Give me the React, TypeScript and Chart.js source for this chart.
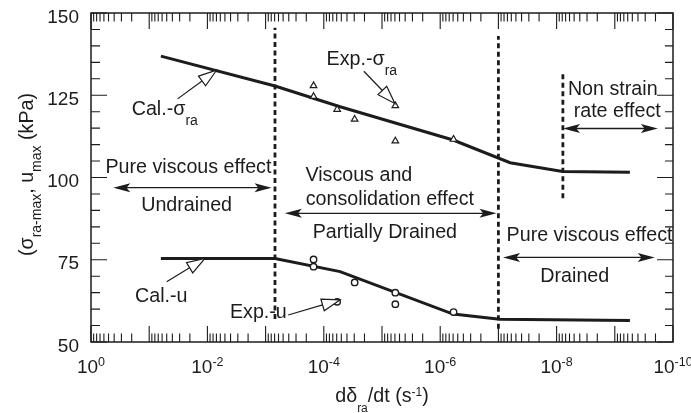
import React, { useEffect, useRef } from "react";
import { Chart, registerables } from "chart.js";

Chart.register(...registerables);

const FONT = '"Liberation Sans", Arial, Helvetica, sans-serif';
const INK = "#1c1c1c";

// ---- Data (strain rate in s^-1, stress / pressure in kPa) ----
const calSigmaRate = [6.3e-2, 6.9e-4, 5.25e-5, 6.0e-7, 6.3e-8, 7.9e-9, 5.5e-10];
const calSigmaValue = [136.9, 127.8, 121.5, 111.4, 104.5, 101.8, 101.6];

const calURate = [6.3e-2, 6.9e-4, 5.25e-5, 6.0e-7, 9.5e-8, 5.5e-10];
const calUValue = [75.4, 75.4, 71.4, 58.5, 56.9, 56.5];

const expSigmaRate = [1.5e-4, 1.5e-4, 5.9e-5, 2.95e-5, 5.9e-6, 5.9e-6, 5.9e-7];
const expSigmaValue = [127.9, 124.6, 120.7, 117.7, 121.8, 111.1, 111.6];

const expURate = [1.5e-4, 1.5e-4, 5.9e-5, 2.95e-5, 5.9e-6, 5.9e-6, 5.9e-7];
const expUValue = [75.1, 72.9, 62.2, 68.1, 65.0, 61.5, 59.1];

// vertical dashed boundaries between regimes
const boundaryRate = [6.9e-4, 1.0e-7, 7.8e-9];
const boundaryLow = [57, 54, 93.7];
const boundaryHigh = [145.5, 143, 132.2];

// axis ticks
const yTickValues = [50, 75, 100, 125, 150];
const xTickExponents = [0, -2, -4, -6, -8, -10];

// region labels: log10(rate), baseline value
const regionLabels = [
  { text: "Pure viscous effect", lx: -1.674, v: 101.4 },
  { text: "Undrained", lx: -1.643, v: 89.8 },
  { text: "Viscous and", lx: -4.602, v: 98.9 },
  { text: "consolidation effect", lx: -5.135, v: 91.6 },
  { text: "Partially Drained", lx: -5.049, v: 81.5 },
  { text: "Pure viscous effect", lx: -8.566, v: 80.8 },
  { text: "Drained", lx: -8.312, v: 68.3 },
  { text: "Non strain", lx: -8.965, v: 125.0 },
  { text: "rate effect", lx: -9.042, v: 118.4 },
];

// double-headed range arrows: log10 rate from/to, value
const rangeArrows = [
  { lx1: -0.383, lx2: -3.103, v: 96.9 },
  { lx1: -3.33, lx2: -6.967, v: 89.1 },
  { lx1: -7.08, lx2: -9.686, v: 75.7 },
  { lx1: -8.11, lx2: -9.74, v: 114.9 },
];

// callout labels with hollow pointer arrows
const callouts = [
  { main: "Cal.-σ", sub: "ra", lx: -0.699, v: 118.9, from: [-1.488, 123.9], to: [-2.157, 132.6] },
  { main: "Exp.-σ", sub: "ra", lx: -4.047, v: 134.1, from: [-4.688, 132.3], to: [-5.221, 122.5] },
  { main: "Cal.-u", sub: "", lx: -0.756, v: 62.25, from: [-1.3, 68.3], to: [-1.958, 75.4] },
  { main: "Exp.-u", sub: "", lx: -2.387, v: 57.2, from: [-3.388, 58.2], to: [-4.276, 62.8] },
];

type Seg = { t: string; size: number; dy: number };

function drawRich(ctx: CanvasRenderingContext2D, segs: Seg[], x: number, y: number, align: string) {
  let total = 0;
  const widths = segs.map((s) => {
    ctx.font = `${s.size}px ${FONT}`;
    const w = ctx.measureText(s.t).width;
    total += w;
    return w;
  });
  let cx = align === "center" ? x - total / 2 : align === "right" ? x - total : x;
  ctx.textAlign = "left";
  ctx.textBaseline = "alphabetic";
  segs.forEach((s, i) => {
    ctx.font = `${s.size}px ${FONT}`;
    ctx.fillText(s.t, cx, y + s.dy);
    cx += widths[i];
  });
}

function filledHead(ctx: CanvasRenderingContext2D, tx: number, ty: number, dx: number, dy: number, len: number, hw: number) {
  const bx = tx - dx * len;
  const by = ty - dy * len;
  const nx = -dy;
  const ny = dx;
  const kx = tx - dx * len * 0.78;
  const ky = ty - dy * len * 0.78;
  ctx.beginPath();
  ctx.moveTo(tx, ty);
  ctx.lineTo(bx + nx * hw, by + ny * hw);
  ctx.lineTo(kx, ky);
  ctx.lineTo(bx - nx * hw, by - ny * hw);
  ctx.closePath();
  ctx.fill();
}

const decorPlugin = {
  id: "decor",
  afterDatasetsDraw(chart: any) {
    const { ctx, chartArea: a, scales } = chart;
    const xs = scales.x;
    const ys = scales.y;
    const px = (lx: number) => xs.getPixelForValue(Math.pow(10, lx));
    const py = (v: number) => ys.getPixelForValue(v);
    ctx.save();
    ctx.strokeStyle = INK;
    ctx.fillStyle = INK;

    // frame
    ctx.lineWidth = 1.5;
    ctx.strokeRect(a.left, a.top, a.right - a.left, a.bottom - a.top);

    // x ticks (inward, top and bottom)
    ctx.lineWidth = 1.1;
    const xTick = (x: number, len: number) => {
      ctx.beginPath();
      ctx.moveTo(x, a.bottom);
      ctx.lineTo(x, a.bottom - len);
      ctx.moveTo(x, a.top);
      ctx.lineTo(x, a.top + len);
      ctx.stroke();
    };
    for (let e = 0; e >= -10; e--) {
      xTick(xs.getPixelForValue(Math.pow(10, e)), 16);
    }
    for (let e = -10; e <= -1; e++) {
      for (let m = 2; m <= 9; m++) {
        xTick(xs.getPixelForValue(m * Math.pow(10, e)), 8.5);
      }
    }
    // y ticks
    for (let v = 50; v <= 150; v += 5) {
      const y = py(v);
      const major = v % 25 === 0;
      ctx.beginPath();
      ctx.moveTo(a.left, y);
      ctx.lineTo(a.left + (major ? 16 : 9), y);
      ctx.moveTo(a.right, y);
      ctx.lineTo(a.right - (major ? 16 : 8), y);
      ctx.stroke();
    }

    // y tick labels
    ctx.font = `19px ${FONT}`;
    ctx.textAlign = "right";
    ctx.textBaseline = "alphabetic";
    yTickValues.forEach((v) => {
      ctx.fillText(String(v), a.left - 12, py(v) + 9.6);
    });
    // x tick labels
    xTickExponents.forEach((e) => {
      drawRich(ctx, [
        { t: "10", size: 19, dy: 0 },
        { t: String(e), size: 12.5, dy: -7.5 },
      ], px(e), a.bottom + 31, "center");
    });

    // axis titles
    drawRich(ctx, [
      { t: "dδ", size: 19.7, dy: 0 },
      { t: "ra", size: 12, dy: 10 },
      { t: "/dt (s", size: 19.7, dy: 0 },
      { t: "-1", size: 12, dy: -6 },
      { t: ")", size: 19.7, dy: 0 },
    ], (a.left + a.right) / 2, a.bottom + 60, "center");

    ctx.save();
    ctx.translate(33, (a.top + a.bottom) / 2 - 3);
    ctx.rotate(-Math.PI / 2);
    drawRich(ctx, [
      { t: "(σ", size: 19.7, dy: 0 },
      { t: "ra-max", size: 14, dy: 8 },
      { t: ", u", size: 19.7, dy: 0 },
      { t: "max", size: 14, dy: 8 },
      { t: " (kPa)", size: 19.7, dy: 0 },
    ], 0, 0, "center");
    ctx.restore();

    // region labels
    ctx.font = `19.7px ${FONT}`;
    ctx.textAlign = "center";
    ctx.textBaseline = "alphabetic";
    regionLabels.forEach((l) => ctx.fillText(l.text, px(l.lx), py(l.v)));

    // double arrows
    ctx.lineWidth = 1.3;
    rangeArrows.forEach((r) => {
      const x1 = px(r.lx1);
      const x2 = px(r.lx2);
      const y = py(r.v);
      ctx.beginPath();
      ctx.moveTo(x1 + 6, y);
      ctx.lineTo(x2 - 6, y);
      ctx.stroke();
      filledHead(ctx, x1, y, -1, 0, 17, 4.5);
      filledHead(ctx, x2, y, 1, 0, 17, 4.5);
    });

    // callouts
    callouts.forEach((c) => {
      const segs: Seg[] = [{ t: c.main, size: 19.7, dy: 0 }];
      if (c.sub) segs.push({ t: c.sub, size: 14, dy: 10 });
      drawRich(ctx, segs, px(c.lx), py(c.v), "left");
      const fx = px(c.from[0]);
      const fy = py(c.from[1]);
      const tx = px(c.to[0]);
      const ty = py(c.to[1]);
      const d = Math.hypot(tx - fx, ty - fy);
      const ux = (tx - fx) / d;
      const uy = (ty - fy) / d;
      const len = 18;
      const hw = 6;
      const bx = tx - ux * len;
      const by = ty - uy * len;
      ctx.lineWidth = 1.2;
      ctx.beginPath();
      ctx.moveTo(fx, fy);
      ctx.lineTo(bx, by);
      ctx.stroke();
      ctx.beginPath();
      ctx.moveTo(tx, ty);
      ctx.lineTo(bx - uy * hw, by + ux * hw);
      ctx.lineTo(bx + uy * hw, by - ux * hw);
      ctx.closePath();
      ctx.fillStyle = "#ffffff";
      ctx.fill();
      ctx.stroke();
      ctx.fillStyle = INK;
    });

    ctx.restore();
  },
};

export default function App() {
  const ref = useRef<HTMLCanvasElement | null>(null);
  useEffect(() => {
    if (!ref.current) return;
    const pts = (xsArr: number[], ysArr: number[]) => xsArr.map((x, i) => ({ x, y: ysArr[i] }));
    const boundaryDatasets = boundaryRate.map((r, i) => ({
      data: [
        { x: r, y: boundaryLow[i] },
        { x: r, y: boundaryHigh[i] },
      ],
      borderColor: INK,
      borderWidth: 2.8,
      borderDash: [5, 3.5],
      pointRadius: 0,
      fill: false,
    }));
    const chart = new Chart(ref.current, {
      type: "line",
      data: {
        datasets: [
          {
            data: pts(expSigmaRate, expSigmaValue),
            showLine: false,
            pointStyle: "triangle",
            pointRadius: 3.8,
            borderWidth: 1.2,
            borderColor: INK,
            backgroundColor: "#ffffff",
          },
          {
            data: pts(expURate, expUValue),
            showLine: false,
            pointStyle: "circle",
            pointRadius: 3.2,
            borderWidth: 1.4,
            borderColor: INK,
            backgroundColor: "#ffffff",
          },
          {
            data: pts(calSigmaRate, calSigmaValue),
            borderColor: INK,
            borderWidth: 3,
            pointRadius: 0,
            tension: 0,
            fill: false,
          },
          {
            data: pts(calURate, calUValue),
            borderColor: INK,
            borderWidth: 3,
            pointRadius: 0,
            tension: 0,
            fill: false,
          },
          ...boundaryDatasets,
        ] as any,
      },
      options: {
        responsive: false,
        animation: false,
        events: [],
        layout: { padding: { left: 91, right: 18, top: 13, bottom: 71 } },
        plugins: { legend: { display: false }, tooltip: { enabled: false } },
        scales: {
          x: { type: "logarithmic", reverse: true, min: 1e-10, max: 1, display: false },
          y: { type: "linear", min: 50, max: 150, display: false },
        },
      } as any,
      plugins: [decorPlugin],
    });
    return () => chart.destroy();
  }, []);
  return (
    <div style={{ position: "fixed", left: 0, top: 0, width: 691, height: 413, background: "#fff" }}>
      <canvas ref={ref} width={691} height={413} style={{ width: 691, height: 413, display: "block" }} />
    </div>
  );
}
